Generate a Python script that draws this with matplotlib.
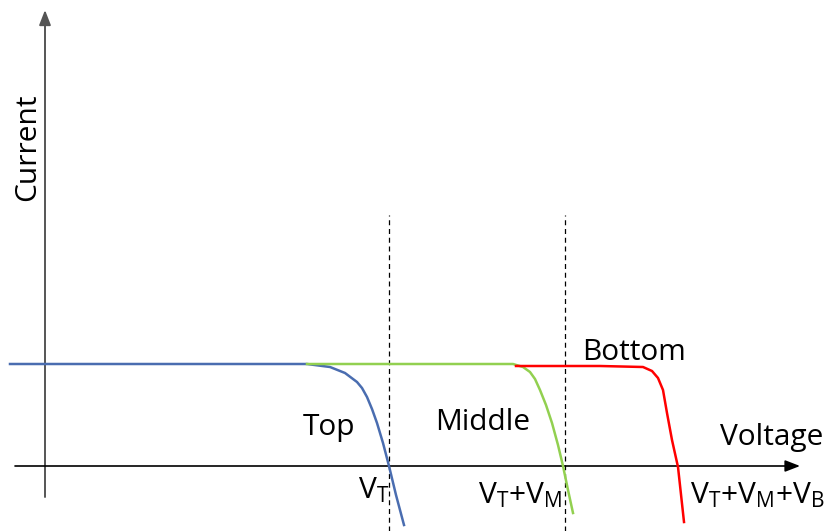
import matplotlib
matplotlib.use("Agg")
import matplotlib.pyplot as plt

plt.rcParams['font.family'] = ['Open Sans', 'DejaVu Sans']
plt.rcParams['mathtext.fontset'] = 'custom'
plt.rcParams['mathtext.rm'] = 'Open Sans'
plt.rcParams['mathtext.it'] = 'Open Sans'
plt.rcParams['mathtext.default'] = 'regular'

# I-V curves of the three sub-cells (voltage, current) in arbitrary units
top_v = [-35, 262, 285, 300, 312, 317, 322, 327, 332, 338, 344, 351, 359]
top_i = [102, 102, 99, 93, 84, 78, 69, 57, 43, 23, 0, -29, -59]
mid_v = [262, 468, 478, 485, 490, 495, 501, 507, 513, 518, 523, 528]
mid_i = [102, 102, 99, 94, 87, 76, 61, 43, 21, 0, -24, -47]
bot_v = [471, 555, 598, 607, 613, 618, 622, 627, 633, 639]
bot_i = [100, 100, 99, 95, 88, 76, 53, 26, -1, -56]

v_top = 344          # open-circuit voltage of the top cell
v_top_mid = 520      # top + middle

fig = plt.figure(figsize=(8.31, 5.31), dpi=100)
ax = fig.add_axes([0, 0, 1, 1])
ax.set_xlim(-45, 786)
ax.set_ylim(-65, 466)
ax.axis('off')

# axes with arrowheads
ax.annotate('', xy=(0, 456), xytext=(0, -31),
            arrowprops=dict(arrowstyle='-|>,head_length=0.9,head_width=0.35',
                            color='#555555', lw=1.4, shrinkA=0, shrinkB=0))
ax.annotate('', xy=(755, 0), xytext=(-30, 0),
            arrowprops=dict(arrowstyle='-|>,head_length=0.9,head_width=0.35',
                            color='black', lw=1.2, shrinkA=0, shrinkB=0))

# dashed markers at the cumulative voltages
for xv in (v_top, v_top_mid):
    ax.plot([xv, xv], [-65, 251], color='black', lw=0.9, ls=(0, (4, 3)))

ax.plot(top_v, top_i, color='#4A6DB0', lw=1.8, zorder=3, solid_joinstyle='round')
ax.plot(mid_v, mid_i, color='#92D050', lw=1.8, zorder=4, solid_joinstyle='round')
ax.plot(bot_v, bot_i, color='#FF0000', lw=1.8, zorder=5, solid_joinstyle='round')

fs = 21.5
ax.text(-17, 319, 'Current', rotation=90, ha='center', va='center', fontsize=fs)
ax.text(675, 29, 'Voltage', ha='left', va='center', fontsize=fs)
ax.text(258, 39, 'Top', ha='left', va='center', fontsize=fs)
ax.text(390, 44, 'Middle', ha='left', va='center', fontsize=fs)
ax.text(537, 114, 'Bottom', ha='left', va='center', fontsize=fs)
ax.text(313, -24, r'V$_{T}$', ha='left', va='center', fontsize=fs)
ax.text(433, -29, r'V$_{T}$+V$_{M}$', ha='left', va='center', fontsize=fs)
ax.text(645, -29, r'V$_{T}$+V$_{M}$+V$_{B}$', ha='left', va='center', fontsize=fs)

fig.savefig('out.png', dpi=100, facecolor='white')
